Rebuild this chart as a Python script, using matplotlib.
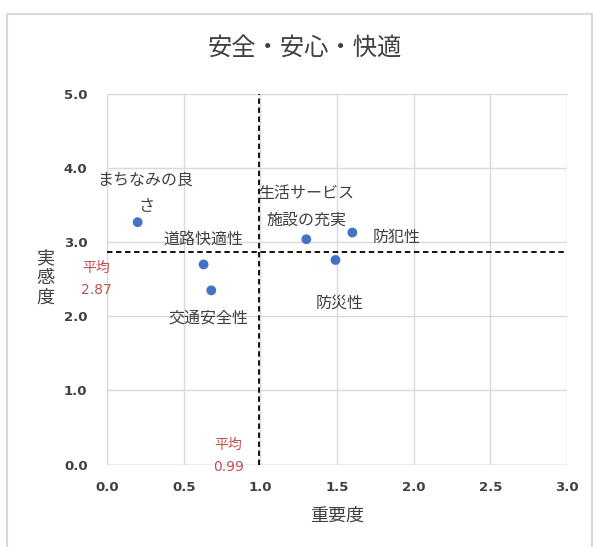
import matplotlib
matplotlib.use("Agg")
import matplotlib.pyplot as plt
from matplotlib.patches import Rectangle

plt.rcParams['font.family'] = ['Noto Sans CJK JP', 'DejaVu Sans']

# Items: importance (x) vs. satisfaction (y)
items = ["まちなみの良さ", "道路快適性", "交通安全性", "生活サービス施設の充実", "防犯性", "防災性"]
importance = [0.20, 0.63, 0.68, 1.30, 1.60, 1.49]
satisfaction = [3.27, 2.70, 2.35, 3.04, 3.13, 2.76]

# Label text lines and their positions (data coords)
label_lines = [
    ("まちなみの良", 0.25, 3.83),
    ("さ", 0.26, 3.48),
    ("道路快適性", 0.63, 3.04),
    ("交通安全性", 0.66, 1.98),
    ("生活サービス", 1.30, 3.66),
    ("施設の充実", 1.30, 3.29),
    ("防犯性", 1.89, 3.06),
    ("防災性", 1.52, 2.18),
]

mean_x = 0.99
mean_y = 2.87

xticks = [0.0, 0.5, 1.0, 1.5, 2.0, 2.5, 3.0]
yticks = [0.0, 1.0, 2.0, 3.0, 4.0, 5.0]

W, H = 593, 547
fig = plt.figure(figsize=(W / 100, H / 100), dpi=100)
fig.patch.set_facecolor("white")

# Chart-area frame
fig.add_artist(Rectangle((7 / W, -0.01), (592 - 7) / W, 1 - 14 / H + 0.01,
                         transform=fig.transFigure, fill=False,
                         edgecolor="#d9d9d9", linewidth=1.5))

left, right, top, bottom = 107, 567, 94, 464.5
ax = fig.add_axes([left / W, 1 - bottom / H, (right - left) / W, (bottom - top) / H])
ax.set_xlim(0, 3)
ax.set_ylim(0, 5)
for s in ax.spines.values():
    s.set_visible(False)

ax.set_xticks(xticks)
ax.set_yticks(yticks)
ax.set_xticklabels([f"{v:.1f}" for v in xticks])
ax.set_yticklabels([f"{v:.1f}" for v in yticks])
ax.tick_params(length=0, labelsize=9.5, colors="#404040")
ax.tick_params(axis="y", pad=14)
ax.tick_params(axis="x", pad=12)
for lbl in ax.get_xticklabels() + ax.get_yticklabels():
    lbl.set_fontfamily(["DejaVu Sans"])
    lbl.set_fontweight("bold")

ax.grid(True, color="#d9d9d9", linewidth=1)
ax.set_axisbelow(True)
ax.axhline(0, color="#bfbfbf", linewidth=1, zorder=1)

ax.axvline(mean_x, color="black", linestyle=(0, (3, 2)), linewidth=1.3, zorder=2)
ax.axhline(mean_y, color="black", linestyle=(0, (3, 2)), linewidth=1.3, zorder=2)

ax.scatter(importance, satisfaction, s=50, color="#4472C4", zorder=3, edgecolors="none")

for text, x, y in label_lines:
    ax.text(x, y, text, ha="center", va="center", fontsize=11.5, color="#404040")

red = "#c0504d"
ax.text(-0.07, (464.5 - 268) / 74, "平均", ha="center", va="center",
        fontsize=10, color=red, clip_on=False)
ax.text(-0.07, (464.5 - 290) / 74, f"{mean_y:.2f}", ha="center", va="center",
        fontsize=10, color=red, clip_on=False, family=["DejaVu Sans"])
ax.text(0.79, (464.5 - 445) / 74, "平均", ha="center", va="center",
        fontsize=10, color=red, clip_on=False)
ax.text(0.79, (464.5 - 467) / 74, f"{mean_x:.2f}", ha="center", va="center",
        fontsize=10, color=red, clip_on=False, family=["DejaVu Sans"])

fig.text(305 / W, 1 - 48 / H, "安全・安心・快適", ha="center", va="center",
         fontsize=17.5, color="#404040")
fig.text(337 / W, 1 - 516 / H, "重要度", ha="center", va="center",
         fontsize=13, color="#404040")
fig.text(45 / W, 1 - 278 / H, "実\n感\n度", ha="center", va="center",
         fontsize=13, color="#404040", linespacing=1.1)

fig.savefig("out.png", dpi=100)
